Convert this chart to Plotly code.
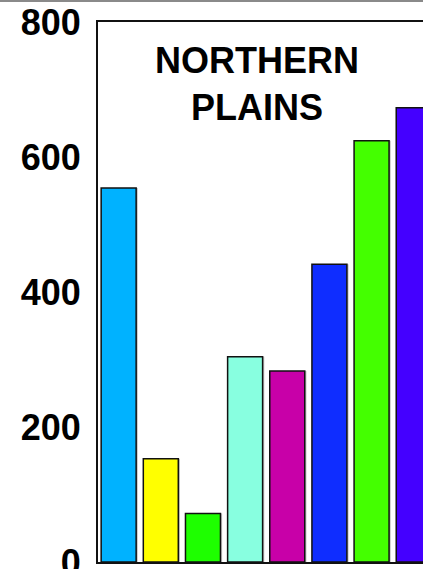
import plotly.graph_objects as go

# values (plot is cropped at the right edge)
categories = ["A", "B", "C", "D", "E", "F", "G", "H"]
values = [554, 153, 72, 304, 283, 441, 624, 673]
colors = ["#00B2FF", "#FFFF00", "#1EFF00", "#88FFE0",
          "#C800A8", "#0F2DFF", "#44FF00", "#4400FF"]
y_ticks = [0, 200, 400, 600, 800]
title_text = "NORTHERN<br>PLAINS"

FONT = "Liberation Sans, Arial, sans-serif"
BAR_W = 0.83

fig = go.Figure()
# faint drop shadow on the right of each bar
fig.add_trace(go.Bar(
    x=categories, y=values,
    width=BAR_W, offset=-BAR_W / 2 + 0.04,
    marker=dict(color="#c4c4c4", line=dict(width=0)),
    showlegend=False, hoverinfo="skip",
))
fig.add_trace(go.Bar(
    x=categories, y=values,
    width=BAR_W, offset=-BAR_W / 2,
    marker=dict(color=colors, line=dict(color="#111111", width=1.5)),
    showlegend=False,
))

fig.update_layout(
    width=423,
    height=569,
    margin=dict(l=98, r=0, t=22, b=7),
    plot_bgcolor="white",
    paper_bgcolor="white",
    barmode="overlay",
    font=dict(family=FONT, color="black"),
    xaxis=dict(
        range=[-0.49, 7.22],
        showticklabels=False,
        ticks="",
        showgrid=False,
        zeroline=False,
        showline=True,
        linecolor="#111111",
        linewidth=2,
        mirror=True,
    ),
    yaxis=dict(
        range=[0, 800],
        tickvals=y_ticks,
        ticktext=["<b>%d</b>" % v for v in y_ticks],
        tickfont=dict(family=FONT, size=36, color="black"),
        ticklabelstandoff=8,
        ticklabeloverflow="allow",
        automargin=False,
        ticks="",
        showgrid=False,
        zeroline=False,
        showline=True,
        linecolor="#111111",
        linewidth=2,
    ),
)

fig.add_annotation(
    x=0.489, y=0.885, xref="paper", yref="paper",
    text="<b>%s</b>" % title_text,
    showarrow=False,
    xanchor="center", yanchor="middle",
    font=dict(family=FONT, size=36, color="black"),
)

# grey frame line across the top of the page
fig.add_shape(
    type="line", xref="paper", yref="paper",
    x0=-0.31, x1=1.0, y0=1.0389, y1=1.0389,
    line=dict(color="#8a8a8a", width=2),
)

# drop the default body margin so the figure fills the window exactly
fig.write_html(
    "out.html",
    config={"displayModeBar": False},
    post_script="document.body.style.margin='0';document.body.style.overflow='hidden';",
)
